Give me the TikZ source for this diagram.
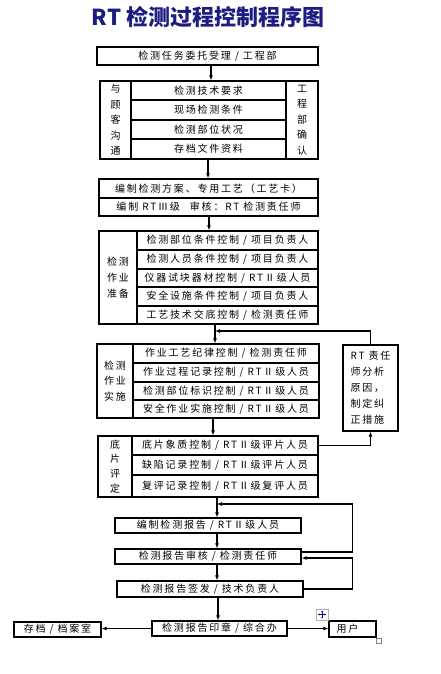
\documentclass[tikz,border=0pt]{standalone}
\usepackage{fontspec}
\setmainfont[LetterSpace=18]{Noto Sans CJK SC}
\newfontfamily\titlefont{Noto Sans CJK SC}
\usetikzlibrary{arrows.meta}
\definecolor{titleblue}{RGB}{28,28,130}
\tikzset{
  cell/.style={draw, line width=1.2pt, inner sep=0pt, align=center, font=\fontsize{10}{12}\selectfont},
  vcol/.style={font=\fontsize{10}{15.5}\selectfont},
  arr/.style={-{Latex[length=5pt,width=4pt]}, line width=1.1pt},
}
\newcommand\cellbox[7][]{%
  \pgfmathsetmacro\cbw{#5-#3}\pgfmathsetmacro\cbh{#6-#4}%
  \pgfmathsetmacro\cbx{(#3+#5)/2}\pgfmathsetmacro\cby{(#4+#6)/2}%
  \node[cell,#1,minimum width=\cbw pt,minimum height=\cbh pt,anchor=center] (#2) at (\cbx,\cby) {#7};}
\begin{document}
\begin{tikzpicture}[x=1pt,y=-1pt]
\fill[white] (0,0) rectangle (440,674);
\useasboundingbox (0,0) rectangle (440,674);
% title
\node[font=\titlefont\bfseries\fontsize{22}{24}\selectfont, text=titleblue] (title) at (208,17) {RT 检测过程控制程序图};
% box 1
\cellbox{b1}{97}{47}{318}{65}{检测任务委托受理 / 工程部}
% group 2
\cellbox[vcol]{L2}{100}{81}{131}{159}{与\\顾\\客\\沟\\通}
\cellbox{r21}{131}{81}{286}{100}{检测技术要求}
\cellbox{r22}{131}{100}{286}{120}{现场检测条件}
\cellbox{r23}{131}{120}{286}{139}{检测部位状况}
\cellbox{r24}{131}{139}{286}{159}{存档文件资料}
\cellbox[vcol]{R2}{286}{81}{318}{159}{工\\程\\部\\确\\认}
% box 3
\cellbox{b3a}{99}{179}{318}{198}{编制检测方案、专用工艺（工艺卡）}
\cellbox{b3b}{99}{198}{318}{216}{编制 RTⅢ级\quad 审核：RT 检测责任师}
% group 4
\cellbox[font=\fontsize{10}{16}\selectfont]{L4}{99}{231}{137}{324}{检测\\作业\\准备}
\cellbox{r41}{137}{231}{318}{250}{检测部位条件控制 / 项目负责人}
\cellbox{r42}{137}{250}{318}{269}{检测人员条件控制 / 项目负责人}
\cellbox{r43}{137}{269}{318}{287}{仪器试块器材控制 / RTⅡ级人员}
\cellbox{r44}{137}{287}{318}{306}{安全设施条件控制 / 项目负责人}
\cellbox{r45}{137}{306}{318}{324}{工艺技术交底控制 / 检测责任师}
% group 5
\cellbox[font=\fontsize{10}{15.5}\selectfont]{L5}{97}{344}{133}{418}{检测\\作业\\实施}
\cellbox{r51}{133}{344}{319}{363}{作业工艺纪律控制 / 检测责任师}
\cellbox{r52}{133}{363}{319}{382}{作业过程记录控制 / RTⅡ级人员}
\cellbox{r53}{133}{382}{319}{400}{检测部位标识控制 / RTⅡ级人员}
\cellbox{r54}{133}{400}{319}{418}{安全作业实施控制 / RTⅡ级人员}
% feedback box
\cellbox[align=left, font=\fontsize{10}{16}\selectfont]{F}{343}{345}{398}{431}{RT 责任\\师分析\\原因，\\制定纠\\正措施}
% group 6
\cellbox[font=\fontsize{10}{14.7}\selectfont]{L6}{98}{436}{132}{497}{底\\片\\评\\定}
\cellbox{r61}{132}{436}{318}{455}{底片象质控制 / RTⅡ级评片人员}
\cellbox{r62}{132}{455}{318}{475}{缺陷记录控制 / RTⅡ级评片人员}
\cellbox{r63}{132}{475}{318}{497}{复评记录控制 / RTⅡ级复评人员}
% report boxes
\cellbox{b7}{115}{518}{301}{533}{编制检测报告 / RTⅡ级人员}
\cellbox{b8}{115}{549}{301}{564}{检测报告审核 / 检测责任师}
\cellbox{b9}{117}{581}{303}{597}{检测报告签发 / 技术负责人}
\cellbox{b10}{152}{621}{287}{636}{检测报告印章 / 综合办}
\cellbox{b11}{14}{622}{101}{637}{存档 / 档案室}
\cellbox{b12}{329}{621}{376}{637}{用户\hspace*{10pt}}
% junction / column coordinates
\coordinate (j1) at (215,331);
\coordinate (j2) at (217,504);
\coordinate (xa) at (211,0);
\coordinate (xb) at (208,0);
\coordinate (xc) at (209,0);
\coordinate (xd) at (215,0);
\coordinate (xe) at (213,0);
\coordinate (xf) at (217,0);
\coordinate (xg) at (218,0);
% main arrows
\draw[arr] (b1.south -| xa) -- (r21.north -| xa);
\draw[arr] (r24.south -| xb) -- (b3a.north -| xb);
\draw[arr] (b3b.south -| xc) -- (r41.north -| xc);
\draw[arr] (r45.south -| xd) -- (r51.north -| xd);
\draw[arr] (r54.south -| xe) -- (r61.north -| xe);
\draw[arr] (r63.south -| xf) -- (b7.north -| xf);
\draw[arr] (b7.south -| xf) -- (b8.north -| xf);
\draw[arr] (b8.south -| xf) -- (b9.north -| xf);
\draw[arr] (b9.south -| xg) -- (b10.north -| xg);
\draw[arr] (b10.west) -- (b10.west -| b11.east);
\draw[arr] (b10.east) -- (b10.east -| b12.west);
% feedback loops
\draw[arr] (F.north) |- (j1);
\draw[arr] (r61.east) -| (F.south);
\draw[arr] ([yshift=4.5pt]b8.east) -- ++(51,0) |- (j2);
\draw[arr] (b9.east) -- ++(49,0) |- ([yshift=-1.5pt]b8.east);
% editor artefacts
\draw[gray!60, fill=white, line width=0.5pt] (316,609) rectangle (328,620);
\draw[blue!70!black, line width=0.6pt, {Latex[length=1.5pt,width=2pt]}-{Latex[length=1.5pt,width=2pt]}] (318,614.5) -- (326,614.5);
\draw[blue!70!black, line width=0.6pt, {Latex[length=1.5pt,width=2pt]}-{Latex[length=1.5pt,width=2pt]}] (322,610.5) -- (322,618.5);
\draw[gray, line width=0.5pt] (376,638) rectangle (381,643);
\end{tikzpicture}
\end{document}
